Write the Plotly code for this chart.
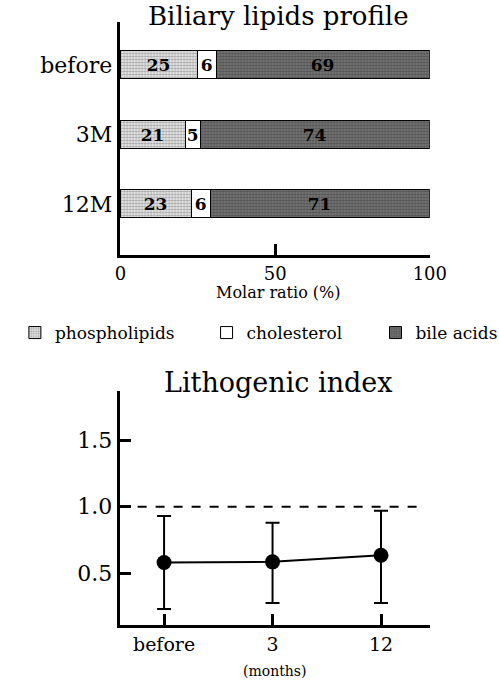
import plotly.graph_objects as go

# top panel: biliary lipid molar ratios (%)
groups = ["before", "3M", "12M"]
phospholipids = [25, 21, 23]
cholesterol = [6, 5, 6]
bile_acids = [69, 74, 71]

# bottom panel: lithogenic index, mean with asymmetric range
months = ["before", "3", "12"]
lith_mean = [0.58, 0.585, 0.635]
lith_high = [0.93, 0.88, 0.97]
lith_low = [0.23, 0.275, 0.275]

FONT = "DejaVu Serif"
# the snapshot comes out squeezed from 515 to 499 px wide, so draw at 515
W, H = 515, 681
REF_W, REF_H = 499, 681


def fx(px):
    return px / REF_W


def fy(py):
    return 1 - py / REF_H


fig = go.Figure()

series = [
    ("phospholipids", phospholipids, "legend",
     dict(shape=".", bgcolor="#f4f4f4", fgcolor="#555", size=3, solidity=0.5)),
    ("cholesterol", cholesterol, "legend2",
     dict(shape="", bgcolor="white", fgcolor="white")),
    ("bile acids", bile_acids, "legend3",
     dict(shape=".", bgcolor="#7a7a7a", fgcolor="#2a2a2a", size=3, solidity=0.5)),
]
for name, vals, leg, pat in series:
    fig.add_trace(go.Bar(
        name=name, y=groups, x=vals, orientation="h", width=0.4, legend=leg,
        marker=dict(color=pat["bgcolor"], pattern=pat, line=dict(color="black", width=1)),
        text=vals, textposition="inside", insidetextanchor="middle", constraintext="none",
        textfont=dict(family=FONT, size=17, color="black", weight="bold"),
        xaxis="x", yaxis="y",
    ))

hi = [h - m for h, m in zip(lith_high, lith_mean)]
lo = [m - l for m, l in zip(lith_mean, lith_low)]
fig.add_trace(go.Scatter(
    x=[0, 1, 2], y=lith_mean, mode="lines+markers", showlegend=False,
    line=dict(color="black", width=2), marker=dict(color="black", size=15),
    error_y=dict(type="data", symmetric=False, array=hi, arrayminus=lo,
                 color="black", thickness=2, width=7),
    xaxis="x2", yaxis="y2",
))

fig.add_shape(type="line", xref="x2 domain", yref="y2", x0=0, x1=0.97, y0=1.0, y1=1.0,
              line=dict(color="black", width=2, dash="dash"))

axis_common = dict(showline=True, linecolor="black", linewidth=3, showgrid=False,
                   zeroline=False, ticks="inside", tickcolor="black", tickwidth=3, ticklen=11)

legend_common = dict(orientation="h", y=fy(333), yanchor="middle", xanchor="left",
                     font=dict(size=17), bgcolor="rgba(0,0,0,0)")

fig.update_layout(
    width=W, height=H,
    margin=dict(l=0, r=0, t=0, b=0),
    paper_bgcolor="white", plot_bgcolor="white",
    font=dict(family=FONT, color="black"),
    barmode="stack",
    bargap=0,
    xaxis=dict(axis_common, domain=[fx(116), fx(430)], range=[-0.3, 100],
               tickvals=[0, 50, 100], tickfont=dict(size=18), anchor="y"),
    yaxis=dict(axis_common, domain=[fy(255), fy(22)], range=[2.73, -0.62],
               categoryorder="array", categoryarray=groups, ticks="",
               tickfont=dict(size=22), anchor="x"),
    xaxis2=dict(axis_common, domain=[fx(116), fx(430)], range=[-0.41, 2.45],
                tickvals=[0, 1, 2], ticktext=months, tickfont=dict(size=19), anchor="y2"),
    yaxis2=dict(axis_common, domain=[fy(625), fy(391)], range=[0.11, 1.87],
                tickvals=[0.5, 1.0, 1.5], ticktext=["0.5", "1.0", "1.5"],
                tickfont=dict(size=22), anchor="x2"),
    legend=dict(legend_common, x=fx(10)),
    legend2=dict(legend_common, x=fx(204)),
    legend3=dict(legend_common, x=fx(375)),
    annotations=[
        dict(text="Biliary lipids profile", x=fx(277), y=fy(16), font=dict(size=26)),
        dict(text="Molar ratio (%)", x=fx(277), y=fy(292), font=dict(size=16)),
        dict(text="Lithogenic index", x=fx(277), y=fy(382), font=dict(size=27)),
        dict(text="(months)", x=fx(273), y=fy(671), font=dict(size=14)),
    ],
)
fig.update_annotations(xref="paper", yref="paper", showarrow=False,
                       xanchor="center", yanchor="middle")

# drop the browser's default body margin so the figure sits at the window corner
fig.write_html("out.html", config={"displayModeBar": False},
               post_script="document.body.style.margin = '0';")
